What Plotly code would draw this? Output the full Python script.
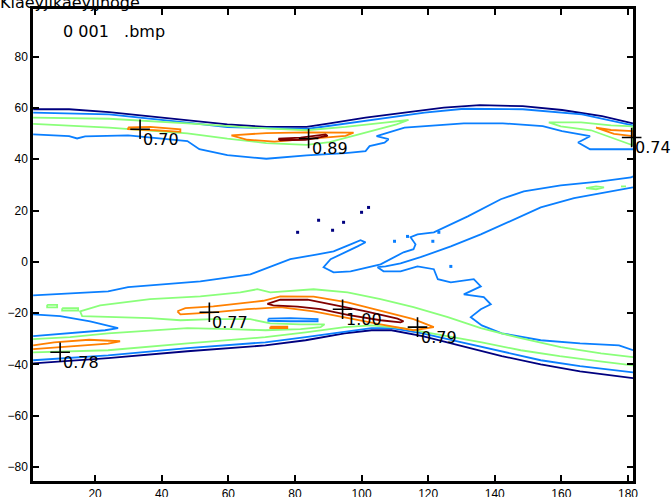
import plotly.graph_objects as go

# ---------------- data (x = column, y = latitude-like) ----------------
NAVY = "#00007f"
BLUE = "#0a7fff"
GREEN = "#8aff7a"
ORANGE = "#ff8000"
DRED = "#800000"

# top band
navy_top = [(1.4,59.5),(12.2,59.5),(24.2,58.4),(35.9,56.8),(47.7,55.3),(59.7,53.6),(71.4,52.6),(83.5,52.6),
            (90.4,54.0),(101.2,56.2),(112.9,58.2),(124.7,60.1),(135.5,61.1),(148.4,60.7),(160.2,59.2),(172.2,56.8),(181.5,54.0)]
blue_top1 = [(1.4,58.2),(24.2,57.5),(47.7,54.3),(59.7,52.5),(83.5,51.8),(95.2,54.0),(118.9,58.2),(130.7,59.7),
             (148.4,59.5),(166.2,57.5),(181.5,53.2)]
green_top1 = [(1.4,56.2),(24.2,55.8),(47.7,54.0),(71.4,52.0),(83.5,51.3),(95.2,52.6),(106.9,54.3),(114.1,55.3),
              (110.5,53.6),(101.2,50.4),(90.4,46.7),(83.5,45.6),(71.4,46.3),(59.7,48.0),(47.7,50.1),(24.2,52.3),(1.4,53.8)]
orange_070 = [(29.9,52.4),(36.5,52.6),(45.6,51.7),(45.6,50.7),(38.0,51.3),(29.9,51.7),(29.9,52.4)]
orange_089 = [(60.9,49.3),(71.4,50.2),(83.5,50.5),(97.6,50.4),(95.2,49.1),(83.5,47.8),(73.8,46.9),(65.7,47.6),(60.9,49.3)]
dred_089 = [(75.0,48.0),(81.7,48.4),(89.2,49.7),(89.8,49.1),(83.2,47.6),(75.6,47.4),(75.0,48.0)]
blue_top2 = [(1.4,49.7),(12.2,49.0),(14.6,48.1),(17.0,48.9),(29.9,49.3),(47.7,47.1),(51.3,43.9),(59.7,41.6),(71.4,40.2),
             (83.5,41.5),(95.2,42.4),(101.2,43.2),(102.4,45.1),(106.9,46.5),(108.1,47.8),(104.5,49.0),(112.9,52.3),
             (118.9,52.9),(130.7,54.0),(142.4,54.0),(154.4,52.9),(160.2,51.0),(168.6,49.0),(165.0,46.5),(168.6,43.9),(181.5,43.9)]
green_top_right = [(156.2,54.4),(165.9,54.4),(174.9,53.2),(181.5,52.8),(181.5,45.4),(174.9,48.5),(168.9,51.3),(159.8,52.8),(156.2,54.4)]
orange_top_right = [(170.4,52.3),(174.9,51.4),(181.5,51.0),(181.5,49.0),(175.8,49.9),(170.4,52.0),(170.4,52.3)]

# middle diagonals
diag_upper = [(1.4,-13.1),(12.2,-12.3),(23.9,-11.5),(29.9,-9.9),(36.5,-9.2),(51.6,-7.6),(66.6,-4.9),(78.6,1.0),(86.8,2.9),
              (91.6,4.1),(96.7,6.8),(99.7,8.4),(101.2,7.6),(98.8,6.0),(90.7,1.0),(88.6,-2.1),(91.6,-4.1),(96.7,-3.7),
              (105.7,-1.0),(112.6,3.7),(115.6,4.9),(116.2,6.8),(114.7,9.6),(116.8,10.7),(121.7,11.5),(131.9,17.7),
              (141.8,24.4),(148.7,27.5),(159.8,29.8),(171.9,31.4),(180.9,32.9),(181.5,33.3)]
diag_lower = [(181.5,29.0),(171.9,26.7),(163.8,24.8),(153.8,21.2),(144.8,15.8),(135.8,10.7),(126.8,6.0),(117.7,1.8),
              (111.7,-0.6),(107.2,-1.8),(104.8,-2.1),(106.6,-3.7),(111.7,-3.7),(116.8,-1.8),(121.7,-2.9),(122.9,-6.8),
              (126.8,-8.0),(133.7,-6.8),(135.8,-9.6),(130.7,-12.7),(136.7,-13.8),(138.8,-16.6),(135.8,-18.5),(132.8,-21.6),
              (136.1,-24.8),(142.1,-27.9),(153.8,-30.6),(165.6,-31.8),(177.3,-32.6),(181.5,-34.5)]
green_mid1 = [(167.4,28.7),(170.4,29.4),(172.8,29.0),(170.4,28.3),(167.4,28.7)]
green_mid2 = [(177.9,29.4),(179.4,29.4)]
blue_dots_x = [109.9,113.8,121.4,123.2,126.8]
blue_dots_y = [8.0,9.9,8.0,11.5,-1.8]
navy_dots_x = [80.8,87.1,91.3,94.6,100.0,102.1]
navy_dots_y = [11.5,16.2,12.3,15.4,19.3,21.2]

# bottom band
navy_bot = [(1.4,-39.6),(23.9,-37.6),(47.7,-34.9),(71.1,-32.6),(83.2,-30.6),(94.9,-27.9),(103.0,-26.7),(109.0,-26.7),
            (118.3,-29.0),(130.1,-32.9),(142.1,-36.8),(153.8,-40.0),(165.6,-42.7),(181.5,-45.4)]
blue_bot1 = [(1.4,-38.4),(23.9,-36.5),(47.7,-33.7),(71.1,-31.4),(83.2,-29.4),(94.9,-27.5),(103.0,-25.9),(109.0,-25.9),
             (118.3,-27.9),(130.1,-31.4),(142.1,-34.9),(153.8,-38.4),(165.6,-40.7),(181.5,-43.1)]
green_bot_low = [(1.4,-35.3),(23.9,-34.5),(47.7,-31.8),(71.1,-29.4),(83.2,-27.5),(94.9,-25.5),(103.0,-24.8),(112.3,-25.9),
                 (124.4,-28.7),(136.1,-31.4),(147.8,-34.5),(159.5,-36.8),(171.6,-38.8),(181.5,-40.4)]
orange_078 = [(1.4,-32.6),(7.7,-31.4),(18.2,-30.4),(27.5,-31.0),(23.9,-31.9),(12.2,-32.9),(1.4,-34.1)]
green_bot_main = [(1.4,-30.2),(12.5,-29.4),(23.9,-27.9),(36.5,-26.7),(47.7,-25.9),(60.6,-26.3),(71.1,-26.7),(81.7,-26.3),
                  (87.7,-25.5),(88.9,-24.4),(81.7,-24.4),(72.6,-24.0),(66.6,-22.4),(55.5,-22.4),(45.6,-22.8),(36.5,-22.0),
                  (27.5,-21.6),(16.1,-21.2),(15.5,-19.3),(18.5,-18.1),(21.5,-17.0),(36.5,-14.6),(51.6,-13.5),(63.6,-11.9),
                  (68.7,-10.7),(72.6,-11.9),(85.6,-10.7),(95.8,-11.9),(105.7,-14.6),(115.6,-17.7),(125.9,-21.6),
                  (135.8,-25.9),(147.8,-29.8),(159.8,-33.3),(171.9,-35.7),(181.5,-37.2)]
green_bit1 = [(5.6,-16.8),(8.6,-16.8),(8.6,-17.8),(5.6,-17.8),(5.6,-16.8)]
green_bit2 = [(10.1,-18.1),(14.9,-18.1),(14.9,-19.0),(10.1,-19.0),(10.1,-18.1)]
blue_lobe = [(1.4,-20.5),(9.5,-21.2),(18.5,-23.2),(24.5,-25.1),(26.9,-25.9),(23.0,-26.7),(15.5,-27.5),(8.0,-28.3),(1.4,-29.0)]
orange_077 = [(44.7,-19.3),(47.1,-18.1),(55.5,-17.4),(65.4,-15.8),(70.5,-15.2),(75.6,-13.5),(85.6,-13.6),(95.8,-15.8),
              (105.7,-19.2),(115.6,-22.4),(121.7,-25.5),(115.6,-26.7),(105.7,-24.4),(95.8,-22.0),(85.6,-19.3),
              (75.6,-17.7),(65.7,-18.5),(55.5,-19.7),(45.6,-20.5),(44.7,-19.3)]
dred_100 = [(71.7,-16.4),(75.6,-14.8),(83.8,-14.8),(90.7,-16.6),(100.6,-19.1),(110.8,-22.2),(112.6,-23.2),(111.7,-23.6),
            (105.7,-22.8),(95.8,-20.7),(87.7,-18.5),(80.8,-17.5),(73.5,-17.0),(71.7,-16.4)]
blue_seg = [(72.0,-22.2),(78.6,-22.0),(86.8,-22.4),(86.8,-23.2),(78.6,-23.2),(72.0,-23.0),(72.0,-22.2)]
orange_small = [(72.6,-25.3),(77.7,-25.3),(77.7,-25.9),(72.6,-25.9),(72.6,-25.3)]

# labelled peaks
peak_x = [33.5, 84.1, 181.1, 9.5, 54.3, 94.3, 116.8]
peak_y = [51.7, 48.1, 48.5, -35.3, -19.7, -18.5, -25.5]
peak_lbl = ["0.70", "0.89", "0.74", "0.78", "0.77", "1.00", "0.79"]

x_ticks = [20, 40, 60, 80, 100, 120, 140, 160, 180]
y_ticks = [-80, -60, -40, -20, 0, 20, 40, 60, 80]

# ---------------- figure ----------------
fig = go.Figure()

def add_line(pts, color, width=1.8):
    fig.add_trace(go.Scatter(x=[p[0] for p in pts], y=[p[1] for p in pts], mode="lines",
                             line=dict(color=color, width=width), hoverinfo="skip", showlegend=False))

for pts, c in [
    (navy_top, NAVY), (blue_top1, BLUE), (green_top1, GREEN), (orange_070, ORANGE), (orange_089, ORANGE),
    (dred_089, DRED), (blue_top2, BLUE), (green_top_right, GREEN), (orange_top_right, ORANGE),
    (diag_upper, BLUE), (diag_lower, BLUE), (green_mid1, GREEN), (green_mid2, GREEN),
    (navy_bot, NAVY), (blue_bot1, BLUE), (green_bot_low, GREEN), (orange_078, ORANGE), (green_bot_main, GREEN),
    (green_bit1, GREEN), (green_bit2, GREEN), (blue_lobe, BLUE), (orange_077, ORANGE), (dred_100, DRED),
    (blue_seg, BLUE), (orange_small, ORANGE)]:
    add_line(pts, c)

fig.add_trace(go.Scatter(x=blue_dots_x, y=blue_dots_y, mode="markers",
                         marker=dict(color=BLUE, size=3, symbol="square"), showlegend=False, hoverinfo="skip"))
fig.add_trace(go.Scatter(x=navy_dots_x, y=navy_dots_y, mode="markers",
                         marker=dict(color=NAVY, size=3, symbol="square"), showlegend=False, hoverinfo="skip"))

fig.add_trace(go.Scatter(x=peak_x, y=peak_y, mode="markers", cliponaxis=False,
                         marker=dict(symbol="cross-thin", size=14, line=dict(color="black", width=1.6)),
                         showlegend=False, hoverinfo="skip"))
for xv, yv, t in zip(peak_x, peak_y, peak_lbl):
    fig.add_annotation(x=xv, y=yv, text=t, showarrow=False, xanchor="left", yanchor="middle",
                       xshift=1, yshift=-10, font=dict(family="DejaVu Sans", size=16, color="black"))

fig.add_annotation(xref="paper", yref="paper", x=0, y=1, text="Klaeyjlkaeyjjhoge.", showarrow=False,
                   xanchor="left", yanchor="bottom", xshift=-35, yshift=-5,
                   font=dict(family="DejaVu Sans", size=16, color="black"))
fig.add_annotation(xref="paper", yref="paper", x=0, y=1, text="0 001\u00a0\u00a0\u00a0.bmp", showarrow=False,
                   xanchor="left", yanchor="middle", xshift=28, yshift=-22,
                   font=dict(family="DejaVu Sans", size=16, color="black"))

axis_common = dict(showline=True, linecolor="black", linewidth=2.5, mirror="ticks", ticks="inside",
                   ticklen=6, tickwidth=2, tickcolor="black", showgrid=False, zeroline=False, automargin=False,
                   tickfont=dict(family="Liberation Sans Narrow, Arial Narrow, sans-serif", size=12, color="black"))
fig.update_xaxes(range=[1.35, 181.5], tickvals=x_ticks, **axis_common)
fig.update_yaxes(range=[-85.5, 98.6], tickvals=y_ticks, **axis_common)

fig.update_layout(width=672, height=497, margin=dict(l=33, r=39, t=9, b=16),
                  plot_bgcolor="white", paper_bgcolor="white")

fig.write_html("out.html", config={"displayModeBar": False},
               post_script="document.body.style.margin='0';")
